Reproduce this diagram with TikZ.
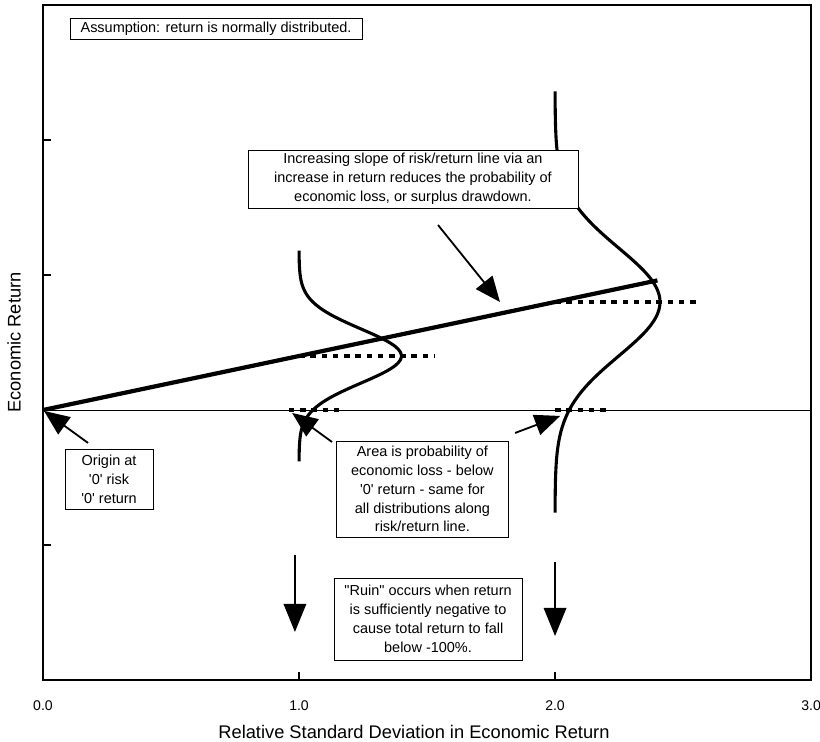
\documentclass[tikz,border=0pt]{standalone}
\usepackage{fontspec}
\setmainfont{Liberation Sans}
\usetikzlibrary{arrows.meta}

\begin{document}
\begin{tikzpicture}[
    x=6.4cm,
    y=3.375cm,
    note/.style={
        rectangle,
        draw,
        fill=white,
        line width=0.6pt,
        align=center,
        inner sep=2pt,
        font=\fontsize{10.3}{13.4}\selectfont
    },
    axislabel/.style={
        font=\fontsize{13}{15}\selectfont
    },
    ticklabel/.style={
        font=\fontsize{10}{12}\selectfont
    },
    arrow/.style={
        -{Triangle[length=18pt,width=15pt]},
        line width=1.3pt
    },
    droparrow/.style={
        -{Triangle[length=20pt,width=16pt]},
        line width=1.4pt
    },
    curve/.style={
        line width=2.2pt,
        line join=round
    },
    meanline/.style={
        line width=3pt,
        dash pattern=on 4pt off 4pt
    }
]

\useasboundingbox (-0.168,-2.459) rectangle (3.035,3.037);

% frame, zero line and ticks
\draw[line width=0.8pt] (0,-2) rectangle (3,3);
\draw[line width=0.6pt] (0,0) -- (3,0);
\foreach \y in {-1,1,2}
    \draw[line width=0.8pt] (0,\y) -- (0.03,\y);
\foreach \x in {1,2}
    \draw[line width=0.8pt] (\x,-2) -- (\x,-1.94);

\foreach \x in {0,1,2,3}
    \node[ticklabel] (tick\x) at (\x,-2.19) {\x.0};

\node[axislabel] (xlabel) at (1.449,-2.385)
    {Relative Standard Deviation in Economic Return};
\node[axislabel, rotate=90] (ylabel) at (-0.113,0.5)
    {Economic Return};


% dotted mean and zero marks
\draw[meanline] (1,0.4) -- (1.53,0.4);
\draw[meanline] (2,0.8) -- (2.57,0.8);
\draw[meanline] (0.96,0) -- (1.17,0);
\draw[meanline] (2,0) -- (2.2,0);


% the two distributions
\draw[curve] plot[domain=-3.9:3.9, samples=80, smooth]
    ({1+0.40*exp(-0.5*(\x)*(\x))}, {0.4+0.2*\x});
\draw[curve] plot[domain=-3.9:3.9, samples=80, smooth]
    ({2+0.41*exp(-0.5*(\x)*(\x))}, {0.8+0.4*\x});


% risk/return line
\coordinate (origin) at (0,0);
\coordinate (lineend) at (2.4,0.96);
\draw[line width=3pt] (origin) -- (lineend);


% notes
\node[note, minimum width=7.3cm, minimum height=0.525cm] (assume) at (0.676,2.826)
    {Assumption: return is normally distributed.};

\node[note, minimum width=8.25cm, minimum height=1.45cm] (slope) at (1.445,1.711)
    {Increasing slope of risk/return line via an\\
     increase in return reduces the probability of\\
     economic loss, or surplus drawdown.};

\node[note, minimum width=2.2cm, minimum height=1.5cm] (origintext) at (0.258,-0.511)
    {Origin at\\\textquotesingle0\textquotesingle\ risk\\\textquotesingle0\textquotesingle\ return};

\node[note, minimum width=4.275cm, minimum height=2.4cm] (area) at (1.482,-0.585)
    {Area is probability of\\
     economic loss - below\\
     \textquotesingle0\textquotesingle\ return - same for\\
     all distributions along\\
     risk/return line.};

\node[note, minimum width=4.7cm, minimum height=2.05cm] (ruin) at (1.504,-1.548)
    {\textquotedbl Ruin\textquotedbl\ occurs when return\\
     is sufficiently negative to\\
     cause total return to fall\\
     below -100\%.};


% arrow ends
\coordinate (slopetail) at (1.543,1.37);
\coordinate (slopetip) at (1.785,0.80);
\coordinate (origintail) at (0.176,-0.244);
\coordinate (origintip) at (0.004,-0.007);
\coordinate (areatailleft) at (1.129,-0.237);
\coordinate (areatipleft) at (0.973,-0.022);
\coordinate (areatailright) at (1.844,-0.170);
\coordinate (areatipright) at (2.02,-0.044);
\coordinate (ruintopleft) at (0.984,-1.074);
\coordinate (ruintipleft) at (0.984,-1.644);
\coordinate (ruintopright) at (2.0,-1.126);
\coordinate (ruintipright) at (2.0,-1.674);

\draw[arrow] (slopetail) -- (slopetip);
\draw[arrow] (origintail) -- (origintip);
\draw[arrow] (areatailleft) -- (areatipleft);
\draw[arrow] (areatailright) -- (areatipright);

\draw[droparrow] (ruintopleft) -- (ruintipleft);
\draw[droparrow] (ruintopright) -- (ruintipright);

\end{tikzpicture}
\end{document}
